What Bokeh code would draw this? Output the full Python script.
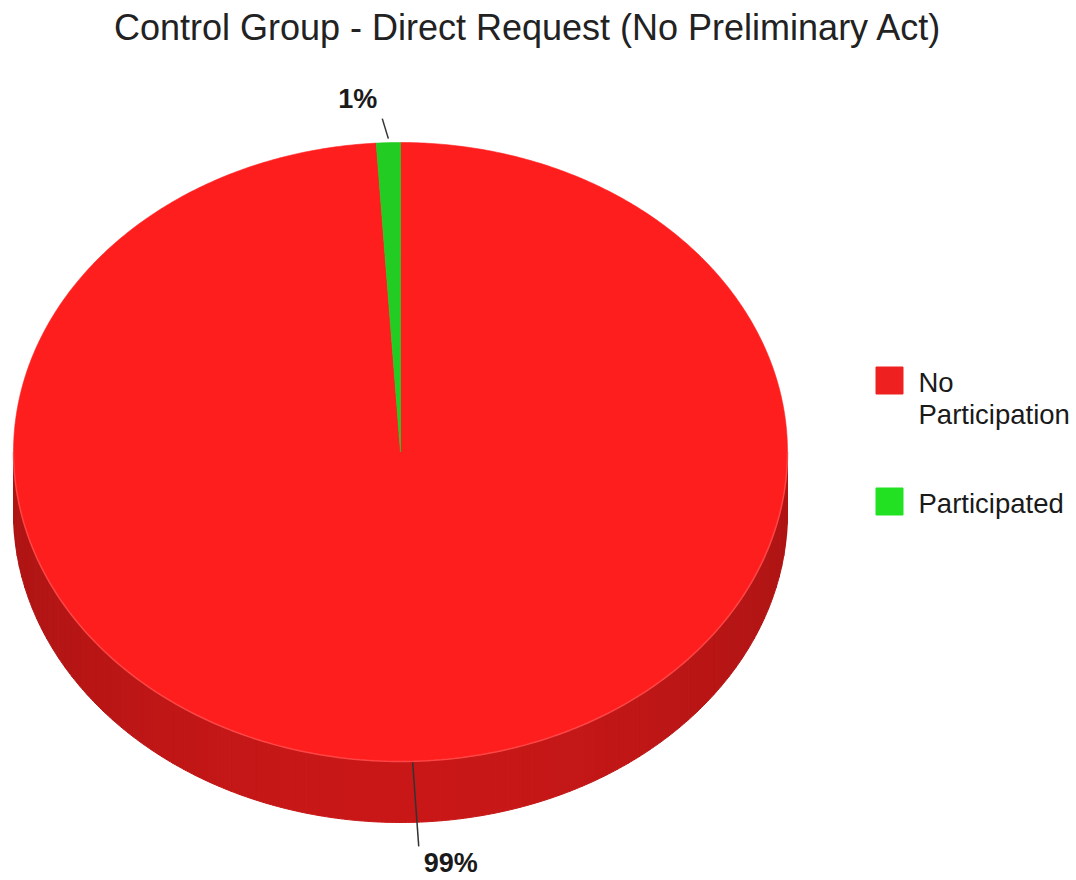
import math
import textwrap
from bokeh.plotting import figure
from bokeh.models import Range1d
from bokeh.core.properties import value
from bokeh.embed import file_html
from bokeh.resources import INLINE

# ---- data ----
title = "Control Group - Direct Request (No Preliminary Act)"
categories = ["No Participation", "Participated"]
shares = [99, 1]
pct_labels = ["99%", "1%"]
top_colors = ["#ff1e1e", "#22cc22"]
legend_colors = ["#ee2020", "#22e022"]

# ---- layout ----
W, H = 1076, 880
CX, CY, RX, RY, DEPTH = 400, 451.5, 387, 309.5, 61
FONT = value("Liberation Sans")

p = figure(width=W, height=H, x_range=Range1d(0, W), y_range=Range1d(H, 0),
           output_backend="svg", toolbar_location=None, min_border=0,
           x_axis_type=None, y_axis_type=None)
p.grid.visible = False
p.outline_line_color = None
p.background_fill_color = "white"
p.border_fill_color = "white"


def pt(phi_deg, dy=0.0):
    a = math.radians(phi_deg)
    return CX + RX * math.sin(a), CY - RY * math.cos(a) + dy


def shade(hex_color, f):
    h = hex_color.lstrip("#")
    r, g, b = (int(h[i:i + 2], 16) for i in (0, 2, 4))
    return "#%02x%02x%02x" % (int(r * f), int(g * f), int(b * f))


total = float(sum(shares))
bounds = []
acc = 0.0
for s in shares:
    a0 = acc / total * 360.0
    acc += s
    a1 = acc / total * 360.0
    bounds.append((a0, a1))

# ---- side (depth) of the 3D pie: visible front half 90..270 deg ----
sxs, sys, scol = [], [], []
for (a0, a1), col in zip(bounds, top_colors):
    lo, hi = max(a0, 90.0), min(a1, 270.0)
    if hi <= lo:
        continue
    n = max(1, int((hi - lo) / 2.0))
    for k in range(n):
        a = lo + (hi - lo) * k / n
        b = lo + (hi - lo) * (k + 1) / n
        m = math.radians((a + b) / 2)
        f = 0.79 - 0.10 * math.sin(m) ** 2
        steps = [a + (b - a) * j / 4 for j in range(5)]
        top = [pt(t) for t in steps]
        bot = [pt(t, DEPTH) for t in reversed(steps)]
        sxs.append([q[0] for q in top + bot])
        sys.append([q[1] for q in top + bot])
        scol.append(shade(col, f))
p.patches(sxs, sys, fill_color=scol, line_color=scol, line_width=1)

# ---- top faces ----
txs, tys = [], []
for (a0, a1) in bounds:
    n = max(2, int((a1 - a0) / 0.5))
    arc = [pt(a0 + (a1 - a0) * j / n) for j in range(n + 1)]
    txs.append([CX] + [q[0] for q in arc])
    tys.append([CY] + [q[1] for q in arc])
p.patches(txs, tys, fill_color=top_colors, line_color=top_colors, line_width=0.6)

# light rim between top face and side
rim = [pt(90 + 180 * j / 180) for j in range(181)]
p.line([q[0] for q in rim], [q[1] for q in rim], line_color="#ff5050",
       line_width=1.5, line_alpha=0.8)

# ---- leader lines and percentage labels ----
lx0, ly0, lx1, ly1 = [], [], [], []
tx, ty, tt, talign, tbase = [], [], [], [], []
for (a0, a1), lab in zip(bounds, pct_labels):
    mid = (a0 + a1) / 2
    ex, ey = pt(mid)
    ox = CX + (ex - CX) * 1.5
    if math.cos(math.radians(mid)) < 0:
        sy, oy = ey + 1, ey + DEPTH + 24
        base, yoff = "top", 2
    else:
        sy, oy = ey - 4, ey - 24
        base, yoff = "bottom", -5
    lx0.append(ex); ly0.append(sy); lx1.append(ox); ly1.append(oy)
    if ox < CX:
        tx.append(ox - 5); talign.append("right")
    else:
        tx.append(ox + 5); talign.append("left")
    ty.append(oy + yoff); tt.append(lab); tbase.append(base)

p.segment(lx0, ly0, lx1, ly1, line_color="#333333", line_width=1.5)
for i in range(len(tt)):
    p.text([tx[i]], [ty[i]], text=[tt[i]], text_font=FONT,
           text_font_size=value("27px"), text_font_style="bold",
           text_color="#1a1a1a", text_align=talign[i], text_baseline=tbase[i])

# ---- legend ----
LEG_X, LEG_Y0, SQ, LINE_H, GAP = 889, 380, 27, 32, 57
y_item = LEG_Y0
for cat, col in zip(categories, legend_colors):
    lines = textwrap.wrap(cat, 13)
    p.rect([LEG_X], [y_item], width=SQ, height=SQ, fill_color=col, line_color=col)
    p.text([LEG_X + 29] * len(lines),
           [y_item + 1.5 + k * LINE_H for k in range(len(lines))],
           text=lines, text_font=FONT, text_font_size=value("27.5px"),
           text_color="#1a1a1a", text_align="left", text_baseline="middle")
    y_item += len(lines) * LINE_H + GAP

# ---- title ----
p.text([527.5], [27], text=[title], text_font=FONT, text_font_size=value("36px"),
       text_color="#222222", text_align="center", text_baseline="middle")

open("out.html", "w").write(file_html(p, INLINE))
